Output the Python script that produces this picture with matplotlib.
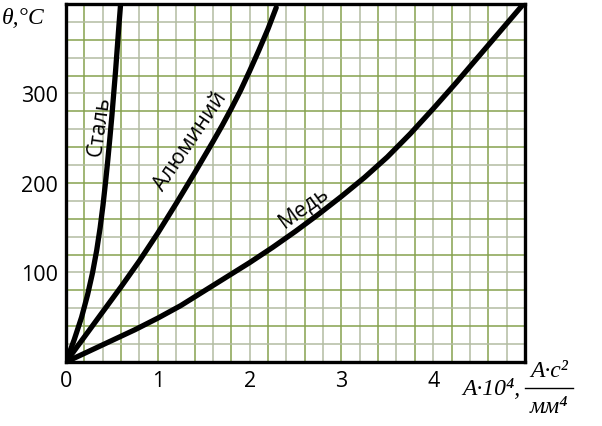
import matplotlib.pyplot as plt
import numpy as np

# data
steel_y = [0, 25, 50, 75, 100, 125, 150, 175, 200, 225, 250, 275, 300, 325, 350, 375, 400]
steel_x = [0, 0.09, 0.17, 0.235, 0.29, 0.335, 0.372, 0.403, 0.43, 0.455, 0.478, 0.50,
           0.52, 0.54, 0.558, 0.576, 0.595]

alum_x = [0, 0.2, 0.4, 0.6, 0.8, 1.0, 1.2, 1.4, 1.6, 1.7, 1.8, 1.9, 2.0, 2.1, 2.2, 2.29]
alum_y = [0, 28, 56, 84, 113, 144, 177, 211, 246, 264, 283, 303, 325, 348, 372, 396]

copper_x = [0, 0.25, 0.5, 0.75, 1.0, 1.25, 1.5, 1.75, 2.0, 2.25, 2.5, 2.75, 3.0,
            3.25, 3.5, 3.75, 4.0, 4.25, 4.5, 4.75, 5.0]
copper_y = [0, 12, 24, 36, 49, 63, 79, 95, 111, 128, 146, 165, 185,
            206, 229, 255, 283, 312, 342, 372, 402]

xticks = [0, 1, 2, 3, 4]
yticks = [100, 200, 300]

fig = plt.figure(figsize=(6.02, 4.27), dpi=100)
ax = fig.add_axes([0.1096, 0.1499, 0.7625, 0.8384])
ax.set_xlim(0, 5)
ax.set_ylim(0, 400)

green = '#86a24e'
gray = '#b3bca2'
for i, gx in enumerate(np.arange(0.2, 5.0, 0.2)):
    ax.axvline(gx, color=green if i % 2 == 0 else gray, lw=1.1, zorder=1)
for i, gy in enumerate(np.arange(20, 400, 20)):
    ax.axhline(gy, color=green if i % 2 == 1 else gray, lw=1.1, zorder=1)

kw = dict(color='black', lw=3.8, solid_capstyle='round', solid_joinstyle='round', zorder=3)
ax.plot(steel_x, steel_y, **kw)
ax.plot(alum_x, alum_y, **kw)
ax.plot(copper_x, copper_y, **kw)

for s in ax.spines.values():
    s.set_linewidth(2.4)
    s.set_zorder(4)

ax.set_xticks(xticks)
ax.set_yticks(yticks)
ax.tick_params(length=0, labelsize=15.5, pad=6)
for lab in ax.get_xticklabels() + ax.get_yticklabels():
    lab.set_family('Open Sans')

font = 'Open Sans'
ax.text(0.37, 264, 'Сталь', rotation=82, fontsize=15.5, family=font,
        ha='center', va='center', zorder=5)
ax.text(1.36, 247, 'Алюминий', rotation=56, fontsize=15.5, family=font,
        ha='center', va='center', zorder=5)
ax.text(2.59, 174, 'Медь', rotation=36, fontsize=15.5, family=font,
        ha='center', va='center', zorder=5)

serif = dict(family='Liberation Serif', style='italic', fontsize=17)
fig.text(0.003, 0.957, 'θ,°C', ha='left', va='center', **serif)
fig.text(0.768, 0.087, 'A·10⁴,', ha='left', va='center', **serif)
fig.text(0.912, 0.13, 'A·c²', ha='center', va='center', **serif)
fig.text(0.912, 0.046, 'мм⁴', ha='center', va='center', **serif)
fig.add_artist(plt.Line2D([0.872, 0.952], [0.089, 0.089], color='black', lw=1.0))

fig.savefig('out.png', dpi=100)
